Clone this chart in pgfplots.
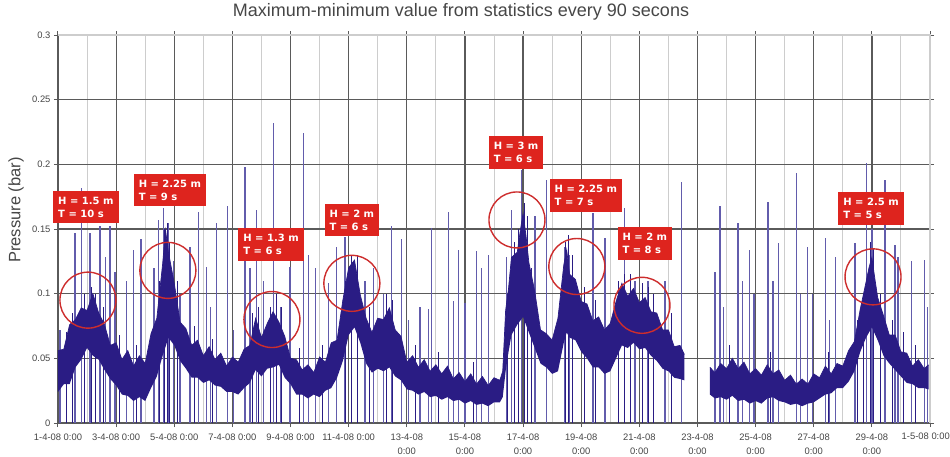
\documentclass[border=0pt]{standalone}
\usepackage{pgfplots}
\pgfplotsset{compat=1.18}
\usepgfplotslibrary{fillbetween}
\usepackage{fontspec}
\setmainfont{Liberation Sans}
\newfontfamily\boxfont{DejaVu Sans}
\definecolor{navy}{RGB}{42,28,132}
\definecolor{spike}{RGB}{98,92,172}
\definecolor{gridd}{RGB}{90,90,90}
\definecolor{gridl}{RGB}{205,205,205}
\definecolor{ticktxt}{RGB}{70,70,70}
\definecolor{boxred}{RGB}{222,36,30}
\definecolor{circred}{RGB}{205,45,45}
\begin{document}
\begin{tikzpicture}
\begin{axis}[
  at={(0pt,0pt)}, anchor=south west,
  scale only axis, width=872pt, height=388pt,
  xmin=0, xmax=30, ymin=0, ymax=0.3,
  clip=false,
  xtick={0,2,...,30},
  xticklabels={{1-4-08 0:00},{3-4-08 0:00},{5-4-08 0:00},{7-4-08 0:00},{9-4-08 0:00},{11-4-08 0:00},{13-4-08\\0:00},{15-4-08\\0:00},{17-4-08\\0:00},{19-4-08\\0:00},{21-4-08\\0:00},{23-4-08\\0:00},{25-4-08\\0:00},{27-4-08\\0:00},{29-4-08\\0:00},{}},
  minor x tick num=1,
  ytick={0,0.05,0.1,0.15,0.2,0.25,0.3},
  yticklabels={0,0.05,0.1,0.15,0.2,0.25,0.3},
  xmajorgrids, xminorgrids, ymajorgrids,
  major grid style={gridd, line width=1.25pt},
  minor grid style={gridl, line width=0.9pt},
  axis line style={gridd, line width=1.25pt},
  tick style={gridd, line width=1pt},
  tick align=outside, major tick length=4pt, minor tick length=0pt,
  xticklabel style={align=center, font=\fontsize{9.4}{14}\selectfont, text=ticktxt, yshift=-3pt},
  yticklabel style={font=\fontsize{9.4}{11}\selectfont, text=ticktxt},
]
% spikes
\addplot[ycomb, spike, line width=1.35pt, mark=none] coordinates {
(0.07,0.072)(0.58,0.147)(0.81,0.182)(1.1,0.147)(1.44,0.152)(1.64,0.128)(1.79,0.152)(1.96,0.117)
(2.36,0.11)(2.59,0.134)(2.85,0.142)(3.3,0.12)(3.45,0.157)(3.62,0.166)(3.8,0.155)(3.97,0.125)
(4.2,0.1)(4.54,0.136)(4.83,0.163)(5.11,0.121)(5.25,0.09)(5.46,0.155)(5.84,0.168)
(6.03,0.072)(6.43,0.198)(6.6,0.12)(6.84,0.165)(7.06,0.11)(7.41,0.232)(7.65,0.09)(7.98,0.121)
(8.44,0.224)(8.61,0.13)(8.85,0.12)(9.3,0.108)(9.59,0.136)(9.87,0.144)(10.56,0.11)(10.85,0.12)
(11.2,0.1)(11.48,0.152)(11.82,0.142)
(12.05,0.08)(12.45,0.09)(12.75,0.088)(12.85,0.151)(13.43,0.163)(13.6,0.094)(13.77,0.134)(14.0,0.093)
(14.4,0.133)(14.58,0.12)(14.8,0.13)(15.43,0.128)(15.6,0.165)(15.95,0.196)(16.41,0.16)(16.81,0.188)
(17.44,0.136)(17.6,0.13)(18.41,0.162)(18.82,0.143)(19.5,0.166)(19.85,0.11)(20.3,0.11)(20.88,0.11)
(21.45,0.186)(22.6,0.117)(22.77,0.168)(22.9,0.09)(23.4,0.155)(23.55,0.11)(23.8,0.134)(23.95,0.1)
(24.43,0.171)(24.6,0.11)(24.78,0.139)(25.41,0.193)(25.55,0.1)(25.79,0.136)(25.95,0.1)(26.41,0.143)
(26.55,0.08)(26.75,0.128)(27.42,0.139)(27.82,0.201)(28.0,0.15)(28.45,0.188)(28.79,0.138)(28.9,0.128)
(29.37,0.125)(29.82,0.126)(29.92,0.09)
};
% band segment 1
\addplot[name path=u1, navy, line width=0.7pt, mark=none] coordinates {
(0,0.056)(0.2,0.057)(0.4,0.076)(0.6,0.080)(0.8,0.089)(1.0,0.087)(1.2,0.100)(1.4,0.085)(1.6,0.076)
(1.8,0.060)(2.0,0.062)(2.2,0.049)(2.4,0.056)(2.6,0.044)(2.8,0.052)(3.0,0.046)(3.2,0.069)(3.4,0.081)
(3.6,0.123)(3.7,0.149)(3.8,0.132)(4.0,0.108)(4.2,0.078)(4.4,0.073)(4.6,0.060)(4.8,0.064)(5.0,0.052)
(5.2,0.059)(5.4,0.049)(5.6,0.054)(5.8,0.044)(6.0,0.051)(6.2,0.047)(6.4,0.057)(6.6,0.060)(6.8,0.081)
(7.0,0.066)(7.2,0.077)(7.4,0.086)(7.6,0.078)(7.8,0.067)(8.0,0.050)(8.2,0.049)(8.4,0.041)(8.6,0.045)
(8.8,0.039)(9.0,0.051)(9.2,0.047)(9.4,0.062)(9.6,0.064)(9.8,0.095)(10.0,0.120)(10.2,0.126)(10.4,0.099)
(10.6,0.081)(10.8,0.070)(11.0,0.081)(11.2,0.080)(11.4,0.089)(11.6,0.072)(11.8,0.067)(12.0,0.047)
(12.2,0.052)(12.4,0.043)(12.6,0.049)(12.8,0.040)(13.0,0.045)(13.2,0.038)(13.4,0.044)(13.6,0.034)
(13.8,0.039)(14.0,0.032)(14.2,0.038)(14.4,0.030)(14.6,0.036)(14.8,0.029)(15.0,0.035)(15.2,0.033)
(15.3,0.040)(15.4,0.087)(15.5,0.104)(15.6,0.128)(15.8,0.132)(15.9,0.148)(16.0,0.162)(16.1,0.145)
(16.2,0.124)(16.4,0.102)(16.6,0.072)(16.8,0.069)(17.0,0.064)(17.2,0.081)(17.4,0.122)(17.5,0.134)
(17.6,0.115)(17.8,0.111)(18.0,0.094)(18.2,0.092)(18.4,0.079)(18.6,0.082)(18.8,0.072)(19.0,0.077)
(19.2,0.094)(19.4,0.108)(19.6,0.098)(19.8,0.104)(20.0,0.093)(20.2,0.097)(20.4,0.086)(20.6,0.085)
(20.8,0.072)(21.0,0.072)(21.2,0.059)(21.4,0.060)(21.55,0.053)
};
\addplot[name path=l1, draw=none, mark=none] coordinates {
(0,0.024)(0.2,0.030)(0.4,0.030)(0.6,0.043)(0.8,0.049)(1.0,0.058)(1.2,0.052)(1.4,0.049)(1.6,0.041)
(1.8,0.034)(2.0,0.029)(2.2,0.022)(2.4,0.021)(2.6,0.017)(2.8,0.020)(3.0,0.017)(3.2,0.027)(3.4,0.036)
(3.6,0.052)(3.8,0.066)(4.0,0.060)(4.2,0.048)(4.4,0.042)(4.6,0.035)(4.8,0.035)(5.0,0.031)(5.2,0.033)
(5.4,0.029)(5.6,0.028)(5.8,0.024)(6.0,0.024)(6.2,0.022)(6.4,0.027)(6.6,0.031)(6.8,0.041)(7.0,0.036)
(7.2,0.042)(7.4,0.043)(7.6,0.045)(7.8,0.035)(8.0,0.030)(8.2,0.022)(8.4,0.022)(8.6,0.019)(8.8,0.022)
(9.0,0.020)(9.2,0.025)(9.4,0.027)(9.6,0.035)(9.8,0.048)(10.0,0.068)(10.2,0.074)(10.4,0.062)(10.6,0.046)
(10.8,0.039)(11.0,0.042)(11.2,0.040)(11.4,0.043)(11.6,0.036)(11.8,0.033)(12.0,0.026)(12.2,0.025)
(12.4,0.022)(12.6,0.024)(12.8,0.020)(13.0,0.021)(13.2,0.018)(13.4,0.020)(13.6,0.017)(13.8,0.018)
(14.0,0.015)(14.2,0.017)(14.4,0.014)(14.6,0.015)(14.8,0.013)(15.0,0.016)(15.2,0.016)(15.3,0.020)
(15.4,0.040)(15.5,0.055)(15.6,0.068)(15.8,0.076)(16.0,0.082)(16.2,0.070)(16.4,0.058)(16.6,0.046)
(16.8,0.043)(17.0,0.038)(17.2,0.040)(17.4,0.062)(17.5,0.070)(17.6,0.066)(17.8,0.064)(18.0,0.055)
(18.2,0.050)(18.4,0.043)(18.6,0.043)(18.8,0.038)(19.0,0.040)(19.2,0.050)(19.4,0.060)(19.6,0.058)
(19.8,0.062)(20.0,0.057)(20.2,0.058)(20.4,0.052)(20.6,0.048)(20.8,0.042)(21.0,0.040)(21.2,0.035)
(21.4,0.034)(21.55,0.033)
};
\addplot[navy] fill between[of=u1 and l1, on layer=main];
% band segment 2
\addplot[name path=u2, navy, line width=0.7pt, mark=none] coordinates {
(22.43,0.043)(22.6,0.039)(22.8,0.046)(23.0,0.042)(23.2,0.050)(23.4,0.042)(23.6,0.047)(23.8,0.038)
(24.0,0.042)(24.2,0.037)(24.4,0.045)(24.6,0.038)(24.8,0.041)(25.0,0.033)(25.2,0.037)(25.4,0.030)
(25.6,0.034)(25.8,0.030)(26.0,0.038)(26.2,0.035)(26.4,0.044)(26.6,0.038)(26.8,0.046)(27.0,0.044)
(27.2,0.056)(27.4,0.063)(27.6,0.088)(27.8,0.109)(27.9,0.120)(28.0,0.128)(28.1,0.112)(28.2,0.097)
(28.4,0.083)(28.6,0.068)(28.8,0.068)(29.0,0.055)(29.2,0.054)(29.4,0.044)(29.6,0.049)(29.8,0.042)
(29.95,0.045)
};
\addplot[name path=l2, draw=none, mark=none] coordinates {
(22.43,0.022)(22.6,0.019)(22.8,0.020)(23.0,0.018)(23.2,0.021)(23.4,0.017)(23.6,0.018)(23.8,0.015)
(24.0,0.017)(24.2,0.015)(24.4,0.019)(24.6,0.020)(24.8,0.017)(25.0,0.016)(25.2,0.014)(25.4,0.015)
(25.6,0.013)(25.8,0.015)(26.0,0.016)(26.2,0.019)(26.4,0.022)(26.6,0.023)(26.8,0.027)(27.0,0.027)
(27.2,0.032)(27.4,0.040)(27.6,0.055)(27.8,0.066)(28.0,0.074)(28.2,0.064)(28.4,0.052)(28.6,0.046)
(28.8,0.041)(29.0,0.036)(29.2,0.031)(29.4,0.030)(29.6,0.027)(29.8,0.027)(29.95,0.026)
};
\addplot[navy] fill between[of=u2 and l2, on layer=main];
% short dense spikes on top of the band
\addplot[ycomb, navy, line width=1pt, mark=none] coordinates {
(0.3,0.07)(0.5,0.085)(0.9,0.1)(1.15,0.105)(1.3,0.1)(1.55,0.09)(2.1,0.068)(2.7,0.06)(3.5,0.11)
(3.65,0.15)(3.75,0.155)(3.85,0.14)(4.1,0.11)(4.7,0.075)(5.3,0.065)(6.7,0.085)(6.9,0.09)(7.3,0.09)
(7.5,0.1)(7.7,0.09)(8.3,0.058)(9.1,0.06)(9.9,0.11)(10.1,0.13)(10.3,0.13)(10.7,0.09)(11.3,0.1)
(11.5,0.095)(12.3,0.06)(13.1,0.055)(14.3,0.047)(15.45,0.1)(15.7,0.14)(15.85,0.15)(16.05,0.17)
(16.15,0.16)(16.3,0.12)(17.45,0.14)(17.55,0.145)(17.7,0.13)(18.1,0.105)(18.5,0.095)(19.3,0.11)
(19.5,0.115)(19.7,0.115)(20.1,0.108)(20.3,0.105)(20.5,0.1)(21.1,0.085)(23.1,0.06)(24.5,0.055)
(26.5,0.055)(27.5,0.08)(27.7,0.1)(27.95,0.14)(28.05,0.135)(28.3,0.1)(28.7,0.08)(29.1,0.07)(29.5,0.06)
};
% light top/right frame
\draw[gridl, line width=1.3pt] (rel axis cs:0,1) -- (rel axis cs:1,1) -- (rel axis cs:1,0);
% last tick label, kept inside the picture
\node[anchor=north east, text=ticktxt, font=\fontsize{9.4}{14}\selectfont, inner sep=0pt] at ([yshift=-10pt]rel axis cs:1,0) {\hspace*{0pt}1-5-08 0:00\hspace*{-20pt}};
% circles
\draw[circred, line width=1.4pt] (axis cs:1.03,0.095) circle[radius=28pt];
\draw[circred, line width=1.4pt] (axis cs:3.78,0.118) circle[radius=28pt];
\draw[circred, line width=1.4pt] (axis cs:7.36,0.080) circle[radius=28pt];
\draw[circred, line width=1.4pt] (axis cs:10.11,0.108) circle[radius=28pt];
\draw[circred, line width=1.4pt] (axis cs:15.79,0.157) circle[radius=28pt];
\draw[circred, line width=1.4pt] (axis cs:17.85,0.121) circle[radius=28pt];
\draw[circred, line width=1.4pt] (axis cs:20.09,0.091) circle[radius=28pt];
\draw[circred, line width=1.4pt] (axis cs:28.04,0.113) circle[radius=28pt];
% labels
\pgfplotsset{every axis/.append style={}}
\node[fill=boxred, text=white, font=\boxfont\bfseries\fontsize{10}{13}\selectfont, align=left, inner xsep=5pt, inner ysep=6pt] at (axis cs:0.96,0.167) {H = 1.5 m\\T = 10 s};
\node[fill=boxred, text=white, font=\boxfont\bfseries\fontsize{10}{13}\selectfont, align=left, inner xsep=5pt, inner ysep=6pt] at (axis cs:3.85,0.180) {H = 2.25 m\\T = 9 s};
\node[fill=boxred, text=white, font=\boxfont\bfseries\fontsize{10}{13}\selectfont, align=left, inner xsep=5pt, inner ysep=6pt] at (axis cs:7.33,0.138) {H = 1.3 m\\T = 6 s};
\node[fill=boxred, text=white, font=\boxfont\bfseries\fontsize{10}{13}\selectfont, align=left, inner xsep=5pt, inner ysep=6pt] at (axis cs:10.11,0.157) {H = 2 m\\T = 6 s};
\node[fill=boxred, text=white, font=\boxfont\bfseries\fontsize{10}{13}\selectfont, align=left, inner xsep=5pt, inner ysep=6pt] at (axis cs:15.76,0.209) {H = 3 m\\T = 6 s};
\node[fill=boxred, text=white, font=\boxfont\bfseries\fontsize{10}{13}\selectfont, align=left, inner xsep=5pt, inner ysep=6pt] at (axis cs:18.16,0.176) {H = 2.25 m\\T = 7 s};
\node[fill=boxred, text=white, font=\boxfont\bfseries\fontsize{10}{13}\selectfont, align=left, inner xsep=5pt, inner ysep=6pt] at (axis cs:20.19,0.139) {H = 2 m\\T = 8 s};
\node[fill=boxred, text=white, font=\boxfont\bfseries\fontsize{10}{13}\selectfont, align=left, inner xsep=5pt, inner ysep=6pt] at (axis cs:27.97,0.166) {H = 2.5 m\\T = 5 s};
\end{axis}
\node[text=ticktxt, font=\fontsize{18}{20}\selectfont] at (403pt,411pt) {Maximum-minimum value from statistics every 90 secons};
\node[text=ticktxt, rotate=90, font=\fontsize{16.5}{20}\selectfont] at (-42pt,213pt) {Pressure (bar)};
\pgfresetboundingbox
\useasboundingbox (-58pt,-33pt) rectangle (892pt,423pt);
\end{tikzpicture}
\end{document}
